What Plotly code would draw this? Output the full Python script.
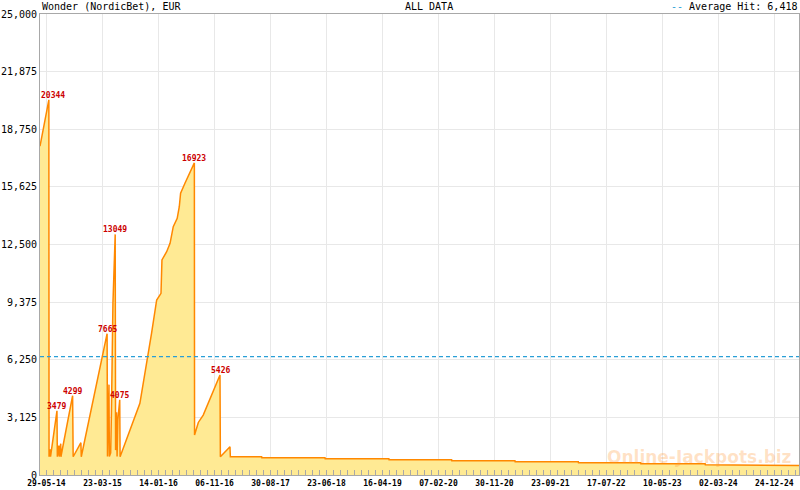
import plotly.graph_objects as go
from datetime import datetime, timedelta

# ---------------- data ----------------
dates = [
    "2014-04-25", "2014-06-11", "2014-06-12", "2014-06-19", "2014-06-20",
    "2014-07-24", "2014-07-26", "2014-08-03", "2014-08-05", "2014-08-13",
    "2014-08-14", "2014-10-15", "2014-10-18", "2014-11-28", "2014-11-30",
    "2015-04-16", "2015-04-18", "2015-04-20", "2015-04-26", "2015-04-28",
    "2015-05-05", "2015-05-09", "2015-05-17", "2015-05-29", "2015-05-31",
    "2015-06-05", "2015-06-08", "2015-06-12", "2015-06-22", "2015-06-24",
    "2015-10-07", "2015-12-08", "2015-12-26", "2016-01-04", "2016-01-27",
    "2016-02-01", "2016-02-26", "2016-03-15", "2016-04-01", "2016-04-22",
    "2016-05-03", "2016-05-10", "2016-06-02", "2016-06-14", "2016-06-25",
    "2016-07-08", "2016-07-22", "2016-07-23", "2016-07-31", "2016-08-12",
    "2016-09-07", "2016-12-05", "2016-12-07", "2017-01-27", "2017-01-29",
    "2017-07-14", "2017-07-15", "2018-06-15", "2018-06-16", "2019-05-20",
    "2019-05-21", "2020-04-17", "2020-04-18", "2021-03-19", "2021-03-20",
    "2022-02-18", "2022-02-19", "2023-01-15", "2023-01-16", "2023-12-23",
    "2023-12-24", "2024-11-19", "2024-11-20", "2025-05-04",
]
values = [
    17830, 20344, 990, 1400, 1000,
    3479, 990, 1600, 1000, 1700,
    990, 4299, 990, 1750, 990,
    7665, 1000, 1700, 4900, 1000,
    1200, 3400, 9300, 13049, 1350,
    3400, 1000, 3000, 4075, 990,
    3890, 7700, 8950, 9490, 9850,
    11660, 12110, 12565, 13465, 13920,
    14550, 15277, 15820, 16090, 16360,
    16630, 16923, 2170, 2500, 2850,
    3250, 5426, 990, 1535, 987,
    987, 933, 933, 878, 878,
    824, 824, 770, 770, 716,
    716, 662, 662, 607, 607,
    553, 553, 515, 515,
]
peak_values = [20344, 3479, 4299, 7665, 13049, 4075, 16923, 5426]
average_hit = 6418

x_tick_dates = [
    "2014-05-29", "2015-03-23", "2016-01-14", "2016-11-06", "2017-08-30",
    "2018-06-23", "2019-04-16", "2020-02-07", "2020-11-30", "2021-09-23",
    "2022-07-17", "2023-05-10", "2024-03-02", "2024-12-24",
]
y_ticks = [0, 3125, 6250, 9375, 12500, 15625, 18750, 21875, 25000]

title_left = "Wonder (NordicBet), EUR"
title_mid = "ALL DATA"
legend_text = "Average Hit: 6,418"
watermark = "Online-Jackpots.biz"

# ---------------- layout helpers ----------------
W, H = 800, 490
ML, MR, MT, MB = 40, 1, 14, 15
PW, PH = W - ML - MR, H - MT - MB


def px_x(x):
    return (x - ML) / PW


def px_y(y):
    return (H - MB - y) / PH


# minor ticks: 8 subdivisions between major ticks
tick_dt = [datetime.strptime(d, "%Y-%m-%d") for d in x_tick_dates]
minor_ticks = []
step = (tick_dt[-1] - tick_dt[0]) / (len(tick_dt) - 1) / 8
t = tick_dt[0] - step * 8
end = datetime(2025, 5, 4)
while t <= end:
    minor_ticks.append(t.strftime("%Y-%m-%d %H:%M"))
    t += step

LINE = "#FF8800"
FILL = "#FFEA94"
GRID = "#E8E8E8"
AXIS = "#A8A8A8"
MONO = "DejaVu Sans Mono"

fig = go.Figure()
fig.add_trace(go.Scatter(
    x=dates, y=values, mode="lines",
    line=dict(color=LINE, width=1.5),
    fill="tozeroy", fillcolor=FILL,
    hoverinfo="skip",
))

annotations = []
for i, pv in enumerate(peak_values):
    idx = values.index(pv)
    annotations.append(dict(
        x=dates[idx], y=pv, xref="x", yref="y",
        text=f"{pv}", showarrow=False,
        font=dict(family=MONO, size=8, color="#CC0000", weight="bold"),
        xanchor="center", yanchor="bottom", yshift=-2,
        xshift=4 if i == 0 else 0,
    ))

annotations += [
    dict(x=px_x(40), y=px_y(6.5), xref="paper", yref="paper", text=title_left,
         showarrow=False, xanchor="left", yanchor="middle",
         font=dict(family=MONO, size=10, color="#000000")),
    dict(x=px_x(429), y=px_y(6.5), xref="paper", yref="paper", text=title_mid,
         showarrow=False, xanchor="center", yanchor="middle",
         font=dict(family=MONO, size=10, color="#000000")),
    dict(x=px_x(799), y=px_y(6.5), xref="paper", yref="paper",
         text=f"<span style='color:#2A9FD6'>--</span> {legend_text}",
         showarrow=False, xanchor="right", yanchor="middle",
         font=dict(family=MONO, size=10, color="#000000")),
    dict(x=px_x(699), y=px_y(457), xref="paper", yref="paper", text=watermark,
         showarrow=False, xanchor="center", yanchor="middle",
         font=dict(family="DejaVu Sans", size=17, color="rgba(255,150,50,0.28)",
                   weight="bold")),
]

fig.add_shape(type="line", xref="paper", yref="y", x0=0, x1=1,
              y0=average_hit, y1=average_hit,
              line=dict(color="#2A9FD6", width=1.2, dash="4px,3px"))

fig.update_layout(
    width=W, height=H, autosize=False,
    margin=dict(l=ML, r=MR, t=MT, b=MB, pad=0),
    paper_bgcolor="white", plot_bgcolor="white",
    showlegend=False,
    annotations=annotations,
    font=dict(family=MONO, color="#000000"),
)
fig.update_xaxes(
    type="date", range=[dates[0], "2025-05-04"],
    tickmode="array", tickvals=x_tick_dates, tickformat="%d-%m-%y",
    tickfont=dict(family=MONO, size=8, color="#000000", weight="bold"),
    showgrid=True, gridcolor=GRID, gridwidth=1,
    showline=True, linecolor=AXIS, linewidth=1, mirror=True,
    ticks="inside", ticklen=5, tickcolor=AXIS, tickwidth=1,
    minor=dict(tickmode="array", tickvals=minor_ticks, ticks="inside",
               ticklen=5, tickcolor=AXIS, tickwidth=1, showgrid=False),
    zeroline=False,
)
fig.update_yaxes(
    range=[0, 25000], tickmode="array", tickvals=y_ticks, tickformat=",d",
    tickfont=dict(family=MONO, size=10, color="#000000"),
    showgrid=True, gridcolor=GRID, gridwidth=1,
    showline=True, linecolor=AXIS, linewidth=1, mirror=True,
    ticks="", zeroline=False,
)

fig.write_html("out.html", config={"displayModeBar": False},
               post_script="document.body.style.margin='0';")
